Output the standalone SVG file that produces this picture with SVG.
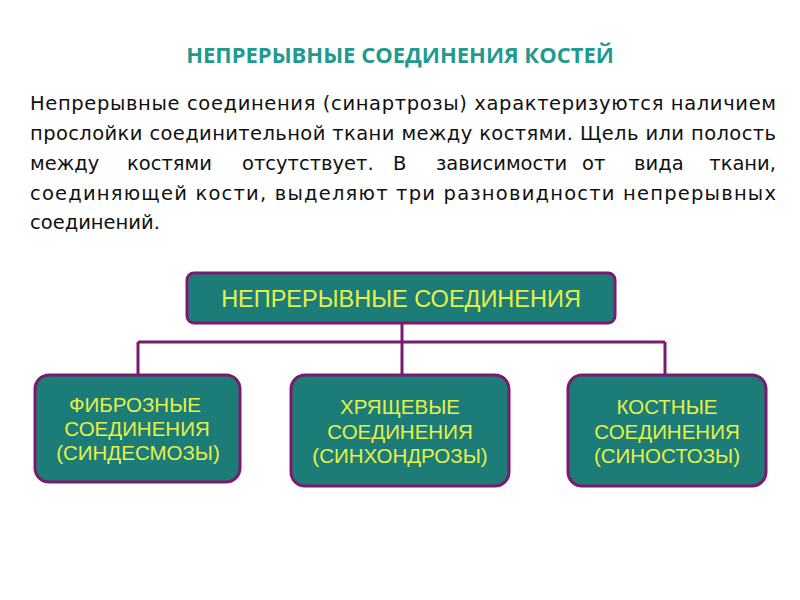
<svg xmlns="http://www.w3.org/2000/svg" width="800" height="600" viewBox="0 0 800 600">
<style>
.box{fill:#1c7c78;stroke:#7b1b70;stroke-width:3}
.lbl{font-family:"Liberation Sans",Arial,sans-serif;font-size:20.5px;fill:#e6f048;text-anchor:middle}
.body{font-family:"DejaVu Sans",sans-serif;font-size:19.5px;fill:#111}
.con{stroke:#7b1b70;stroke-width:3;fill:none}
</style>
<rect width="800" height="600" fill="#fff"/>
<text x="400" y="63" text-anchor="middle" font-family="'Open Sans','DejaVu Sans',sans-serif" font-weight="bold" font-size="22" fill="#1f9a8e">НЕПРЕРЫВНЫЕ СОЕДИНЕНИЯ КОСТЕЙ</text>
<g class="body">
<text x="30" y="110" textLength="746" lengthAdjust="spacing">Непрерывные соединения (синартрозы) характеризуются наличием</text>
<text x="30" y="140" textLength="746" lengthAdjust="spacing">прослойки соединительной ткани между костями. Щель или полость</text>
<text y="170"><tspan x="30">между</tspan><tspan x="127">костями</tspan><tspan x="242">отсутствует.</tspan><tspan x="393">В</tspan><tspan x="436">зависимости</tspan><tspan x="582">от</tspan><tspan x="634">вида</tspan></text>
<text x="776" y="170" text-anchor="end">ткани,</text>
<text x="30" y="200" textLength="746" lengthAdjust="spacing">соединяющей кости, выделяют три разновидности непрерывных</text>
<text x="30" y="229">соединений.</text>
</g>
<g id="connectors">
<path class="con" d="M402 323V374M138 342H665M138 342V374M665 342V374"/>
</g>
<g id="root"><rect class="box" x="187" y="273" width="428" height="50" rx="7"/>
<text class="lbl" x="401" y="307" style="font-size:23.5px">НЕПРЕРЫВНЫЕ СОЕДИНЕНИЯ</text></g>
<g id="fibrous"><rect class="box" x="35" y="375" width="205" height="107" rx="14"/>
<text class="lbl" x="135" y="412">ФИБРОЗНЫЕ</text><text class="lbl" x="137" y="436">СОЕДИНЕНИЯ</text><text class="lbl" x="138" y="460">(СИНДЕСМОЗЫ)</text></g>
<g id="cartilage"><rect class="box" x="291" y="375" width="218" height="111" rx="14"/>
<text class="lbl" x="400" y="414">ХРЯЩЕВЫЕ</text><text class="lbl" x="400" y="439">СОЕДИНЕНИЯ</text><text class="lbl" x="400" y="463">(СИНХОНДРОЗЫ)</text></g>
<g id="bone"><rect class="box" x="568" y="375" width="198" height="111" rx="14"/>
<text class="lbl" x="667" y="414">КОСТНЫЕ</text><text class="lbl" x="667" y="439">СОЕДИНЕНИЯ</text><text class="lbl" x="667" y="463">(СИНОСТОЗЫ)</text></g>
</svg>
